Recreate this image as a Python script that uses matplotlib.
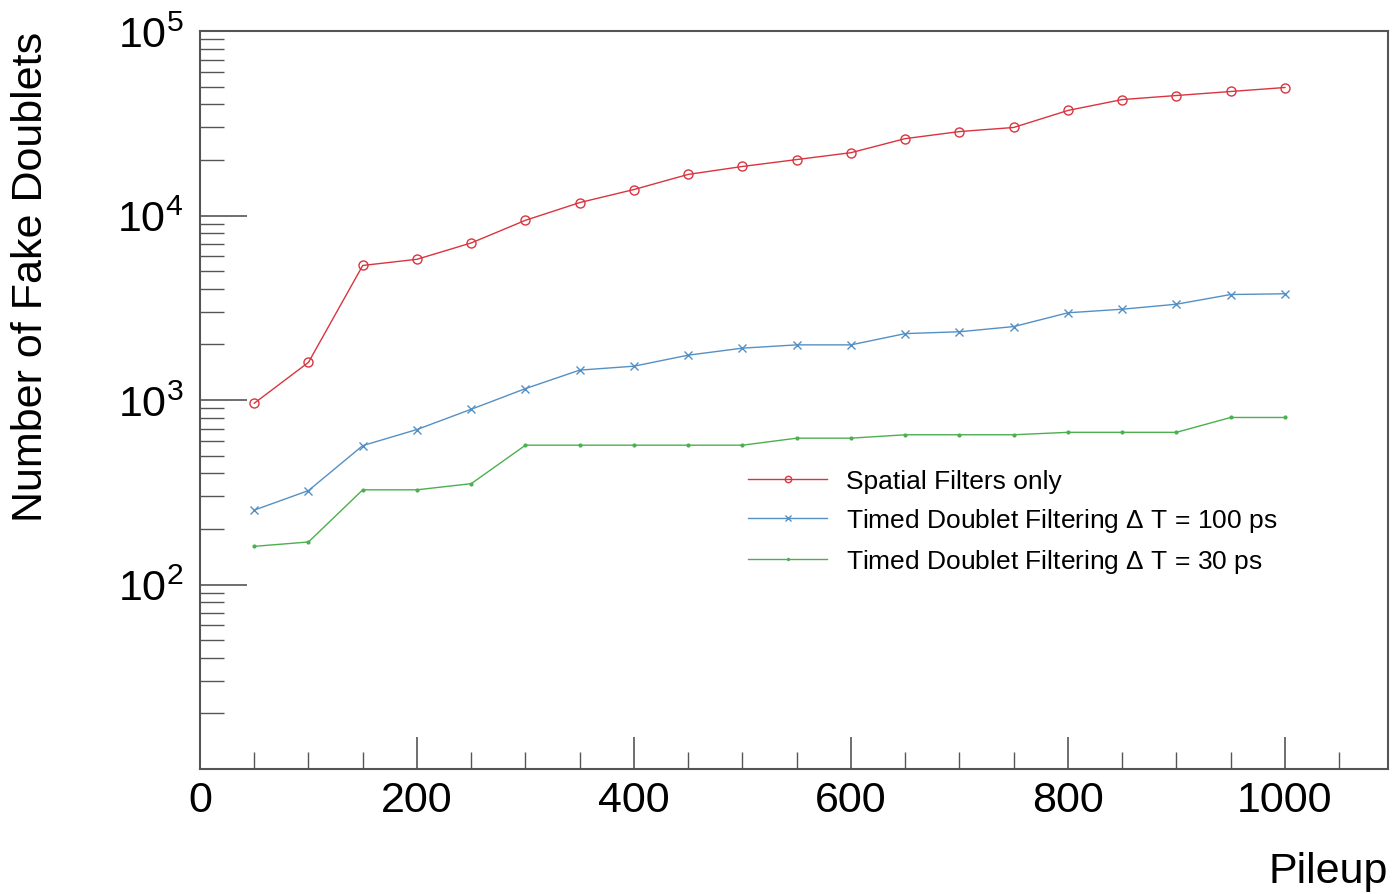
import numpy as np
import matplotlib
matplotlib.use("Agg")
import matplotlib.pyplot as plt
from matplotlib.ticker import FixedLocator, MultipleLocator, NullFormatter

plt.rcParams['font.family'] = ['Liberation Sans', 'DejaVu Sans']
plt.rcParams['mathtext.fontset'] = 'custom'
plt.rcParams['mathtext.rm'] = 'Liberation Sans'
plt.rcParams['mathtext.it'] = 'Liberation Sans'

# data
pileup = [50, 100, 150, 200, 250, 300, 350, 400, 450, 500,
          550, 600, 650, 700, 750, 800, 850, 900, 950, 1000]
spatial = [960, 1600, 5360, 5790, 7100, 9420, 11750, 13830, 16700, 18440,
           20100, 21900, 26100, 28500, 30000, 37100, 42500, 44700, 47000, 49400]
timed_100 = [253, 323, 566, 692, 891, 1153, 1452, 1525, 1750, 1910,
             1990, 1990, 2290, 2344, 2500, 2970, 3105, 3305, 3730, 3765]
timed_30 = [161, 170, 326, 326, 352, 569, 569, 569, 569, 569,
            621, 621, 648, 648, 648, 668, 668, 668, 804, 804]

labels = ['Spatial Filters only',
          r'Timed Doublet Filtering $\Delta$ T = 100 ps',
          r'Timed Doublet Filtering $\Delta$ T = 30 ps']

fig = plt.figure(figsize=(13.93, 8.95), dpi=100)
ax = fig.add_axes([200/1393, 1 - 770/895, 1188/1393, 738/895])

ax.plot(pileup, spatial, color='#d9343f', lw=1.0, marker='o', ms=6.5,
        mfc='none', mec='#d9343f', mew=1.0, label=labels[0])
ax.plot(pileup, timed_100, color='#5590c4', lw=1.0, marker='x', ms=6,
        mew=1.0, label=labels[1])
ax.plot(pileup, timed_30, color='#4caf50', lw=1.0, marker='o', ms=2,
        label=labels[2])

ax.set_yscale('log')
ax.set_xlim(0, 1095)
ax.set_ylim(10, 1e5)

# ROOT style axes: inward ticks on left/bottom only
for s in ax.spines.values():
    s.set_color('#555555')
    s.set_linewidth(1.5)
ax.xaxis.set_major_locator(MultipleLocator(200))
ax.xaxis.set_minor_locator(MultipleLocator(50))
ax.yaxis.set_major_locator(FixedLocator([1e2, 1e3, 1e4, 1e5]))
minors = [m * 10**d for d in range(1, 5) for m in range(2, 10)]
ax.yaxis.set_minor_locator(FixedLocator(minors))
ax.yaxis.set_minor_formatter(NullFormatter())
ax.set_yticklabels([r'$10^{2}$', r'$10^{3}$', r'$10^{4}$', r'$10^{5}$'])
ax.tick_params(axis='both', which='both', direction='in', colors='#555555',
               labelcolor='black', top=False, right=False)
ax.tick_params(axis='x', which='major', length=23, width=1.2, labelsize=31, pad=8)
ax.tick_params(axis='x', which='minor', length=12, width=1.0)
ax.tick_params(axis='y', which='major', length=34, width=1.2, labelsize=31, pad=12)
ax.tick_params(axis='y', which='minor', length=17, width=1.0)

ax.set_ylabel('Number of Fake Doublets', fontsize=31, ha='right', va='center')
ax.yaxis.set_label_coords(-0.1423, 1.0)
fig.text(1388/1393, 1 - 872/895, 'Pileup', fontsize=31, ha='right', va='center')

ax.legend(loc='upper left', bbox_to_anchor=(548/1188, 1 - 438/738),
          frameon=False, fontsize=19, handlelength=3.0, handletextpad=0.72,
          labelspacing=0.5, markerscale=0.7, borderpad=0, borderaxespad=0)

fig.savefig('out.png', dpi=100)
